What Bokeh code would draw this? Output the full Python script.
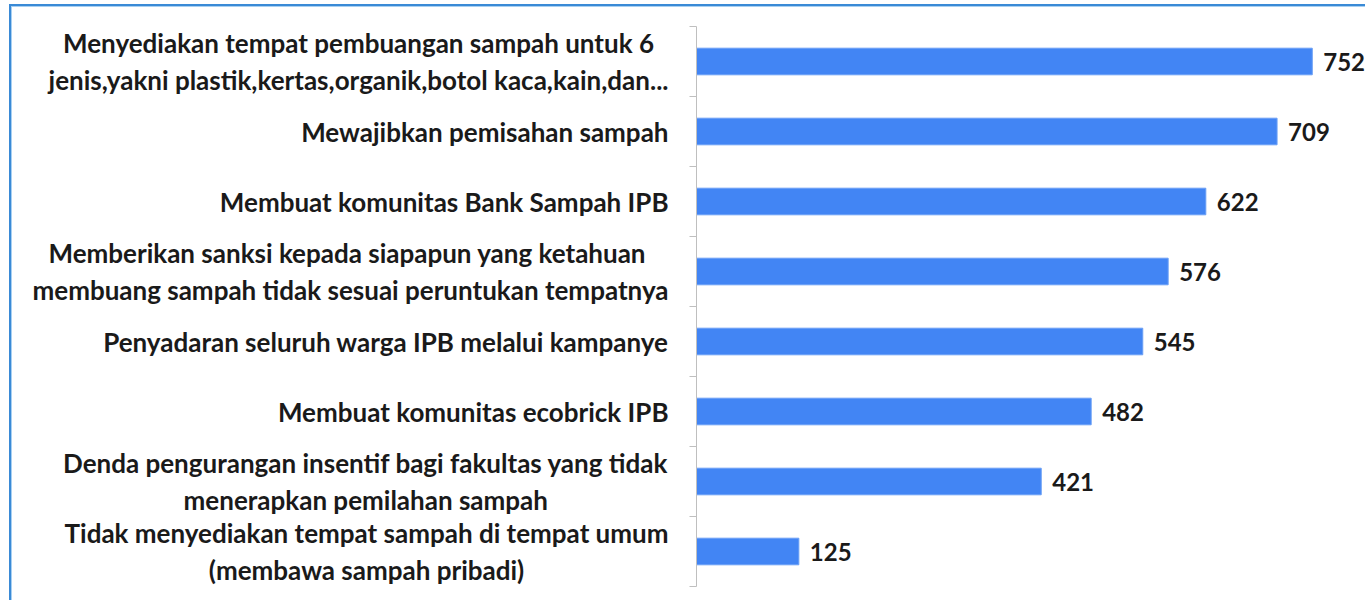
from bokeh.plotting import figure
from bokeh.models import ColumnDataSource, FixedTicker, LinearAxis, Range1d
from bokeh.layouts import row
from bokeh.embed import file_html
from bokeh.resources import INLINE
from bokeh.core.properties import value

categories = [
    "Menyediakan tempat pembuangan sampah untuk 6\njenis,yakni plastik,kertas,organik,botol kaca,kain,dan...",
    "Mewajibkan pemisahan sampah",
    "Membuat komunitas Bank Sampah IPB",
    "Memberikan sanksi kepada siapapun yang ketahuan \nmembuang sampah tidak sesuai peruntukan tempatnya",
    "Penyadaran seluruh warga IPB melalui kampanye",
    "Membuat komunitas ecobrick IPB",
    "Denda pengurangan insentif bagi fakultas yang tidak\nmenerapkan pemilahan sampah",
    "Tidak menyediakan tempat sampah di tempat umum\n(membawa sampah pribadi)",
]
values = [752, 709, 622, 576, 545, 482, 421, 125]

n = len(categories)
ypos = [n - 0.5 - i for i in range(n)]
LABEL_W = 686
LABEL_RIGHT = 668
TOTAL_W = 1365
H = 600

src = ColumnDataSource(dict(y=ypos, v=values, lab=[str(v) for v in values],
                            cat=categories, lx=[LABEL_RIGHT] * n))

FONT = "Lato"
TXT = "#1a1a1a"
yr = Range1d(0, n)

# label panel
pl = figure(width=LABEL_W, height=H, output_backend="svg", toolbar_location=None,
            x_range=Range1d(0, LABEL_W), y_range=yr,
            min_border_left=0, min_border_right=0, min_border_top=26, min_border_bottom=H - 586,
            x_axis_location=None, y_axis_location=None)
pl.outline_line_color = None
pl.background_fill_color = None
pl.border_fill_color = None
pl.xgrid.visible = False
pl.ygrid.visible = False
pl.text(x="lx", y="y", text="cat", source=src, anchor="center_right", text_align="center",
        text_baseline="middle", text_line_height=1.18,
        text_font=value(FONT), text_font_style="bold", text_font_size="26px", text_color=TXT)

# bar panel
p = figure(width=TOTAL_W - LABEL_W, height=H, output_backend="svg", toolbar_location=None,
           x_range=Range1d(0, 817), y_range=yr,
           min_border_left=10, min_border_right=0, min_border_top=26, min_border_bottom=H - 586,
           x_axis_location=None, y_axis_location=None)
p.outline_line_color = None
p.background_fill_color = None
p.border_fill_color = None
p.xgrid.visible = False
p.ygrid.visible = False

p.hbar(y="y", right="v", left=0, height=0.38, source=src, fill_color="#4285F4",
       line_color="#6a9ff5", line_width=1)
p.text(x="v", y="y", text="lab", source=src, x_offset=11, text_baseline="middle", text_align="left",
       text_font=value(FONT), text_font_style="bold", text_font_size="24px", text_color=TXT)

yaxis = LinearAxis(ticker=FixedTicker(ticks=[], minor_ticks=list(range(n + 1))))
yaxis.major_tick_out = 0
yaxis.major_tick_in = 0
yaxis.minor_tick_out = 7
yaxis.minor_tick_in = 0
yaxis.minor_tick_line_color = "#bfbfbf"
yaxis.axis_line_color = "#bfbfbf"
yaxis.major_label_standoff = 0
p.add_layout(yaxis, "left")

layout = row(pl, p, spacing=0)
layout.styles = {"box-shadow": "inset 9px 4px 0 0 #ffffff, inset 11px 6px 0 0 #3a8ad6, inset 12px 7px 0 0 #a8d0f2",
                 "background": "white"}

open("out.html", "w").write(file_html(layout, INLINE))
